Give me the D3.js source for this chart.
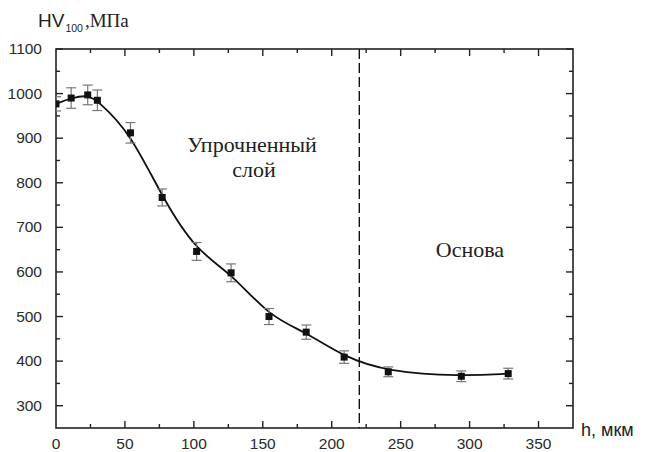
<!DOCTYPE html>
<html>
<head>
<meta charset="utf-8">
<script src="https://cdn.jsdelivr.net/npm/d3@7"></script>
<style>
  body { margin: 0; background: #fff; }
  .tick-label { font-family: "Liberation Sans", Arial, sans-serif; font-size: 15.5px; fill: #2a2a2a; }
  .serif { font-family: "Liberation Serif", "Times New Roman", serif; fill: #222; }
</style>
</head>
<body>
<div id="chart"></div>
<script>
// depth h, мкм
const depth = [0, 11, 23, 30, 54, 77, 102, 127, 154.5, 181.5, 209, 241, 294, 328];
// microhardness HV100, МПа
const hardness = [977, 990, 997, 985, 912, 767, 646, 598, 500, 465, 409, 376, 366, 372];
// error bar half-width
const errors = [16, 23, 22, 23, 23, 19, 20, 20, 18, 16, 14, 11, 12, 12];
const xTicks = [0, 50, 100, 150, 200, 250, 300, 350];
const yTicks = [300, 400, 500, 600, 700, 800, 900, 1000, 1100];
const boundary = 220;

const margin = {top: 49, right: 72, bottom: 24, left: 56};
const W = 645, H = 452;
const width = W - margin.left - margin.right;
const height = H - margin.top - margin.bottom;

const svg = d3.select("#chart").append("svg")
    .attr("width", W)
    .attr("height", H);

const g = svg.append("g")
    .attr("transform", "translate(" + margin.left + "," + margin.top + ")");

const x = d3.scaleLinear().domain([0, 375]).range([0, width]);
const y = d3.scaleLinear().domain([250, 1100]).range([height, 0]);

g.append("defs").append("clipPath").attr("id", "clip")
    .append("rect").attr("width", width).attr("height", height);

// minor ticks every 25 / 50
const xMinor = d3.range(25, 375, 50);
const yMinor = d3.range(350, 1100, 100);

function tickLines(sel, vals, len, orient) {
    sel.selectAll(null).data(vals).enter().append("line")
        .attr("stroke", "#222")
        .attr("stroke-width", 1.4)
        .attr("x1", d => orient === "b" || orient === "t" ? x(d) : (orient === "l" ? 0 : width))
        .attr("x2", d => orient === "b" || orient === "t" ? x(d) : (orient === "l" ? len : width - len))
        .attr("y1", d => orient === "l" || orient === "r" ? y(d) : (orient === "b" ? height : 0))
        .attr("y2", d => orient === "l" || orient === "r" ? y(d) : (orient === "b" ? height - len : len));
}

const ticks = g.append("g");
["b", "t"].forEach(o => {
    tickLines(ticks, xTicks.filter(d => d > 0), 7, o);
    tickLines(ticks, xMinor, 4, o);
});
["l", "r"].forEach(o => {
    tickLines(ticks, yTicks, 7, o);
    tickLines(ticks, yMinor, 4, o);
});

// frame
g.append("rect")
    .attr("width", width)
    .attr("height", height)
    .attr("fill", "none")
    .attr("stroke", "#222")
    .attr("stroke-width", 1.6);

// tick labels
g.selectAll(".xl").data(xTicks).enter().append("text")
    .attr("class", "tick-label")
    .attr("x", d => x(d))
    .attr("y", height + 21)
    .attr("text-anchor", "middle")
    .text(d => d);

g.selectAll(".yl").data(yTicks).enter().append("text")
    .attr("class", "tick-label")
    .attr("x", -14)
    .attr("y", d => y(d) + 5)
    .attr("text-anchor", "end")
    .text(d => d);

// boundary line
g.append("line")
    .attr("x1", x(boundary)).attr("x2", x(boundary))
    .attr("y1", 0).attr("y2", height)
    .attr("stroke", "#111")
    .attr("stroke-width", 1.4)
    .attr("stroke-dasharray", "10,4");

const pts = depth.map((d, i) => ({x: d, y: hardness[i], e: errors[i]}));
const plot = g.append("g").attr("clip-path", "url(#clip)");

// fitted curve
plot.append("path")
    .datum(pts)
    .attr("fill", "none")
    .attr("stroke", "#111")
    .attr("stroke-width", 1.8)
    .attr("d", d3.line().x(d => x(d.x)).y(d => y(d.y)).curve(d3.curveBasis));

// error bars
const eb = plot.selectAll(".eb").data(pts).enter().append("g")
    .attr("stroke", "#777")
    .attr("stroke-width", 1.2);
eb.append("line")
    .attr("x1", d => x(d.x)).attr("x2", d => x(d.x))
    .attr("y1", d => y(d.y - d.e)).attr("y2", d => y(d.y + d.e));
eb.append("line")
    .attr("x1", d => x(d.x) - 5).attr("x2", d => x(d.x) + 5)
    .attr("y1", d => y(d.y - d.e)).attr("y2", d => y(d.y - d.e));
eb.append("line")
    .attr("x1", d => x(d.x) - 5).attr("x2", d => x(d.x) + 5)
    .attr("y1", d => y(d.y + d.e)).attr("y2", d => y(d.y + d.e));

// markers
plot.selectAll(".pt").data(pts).enter().append("rect")
    .attr("x", d => x(d.x) - 3.5)
    .attr("y", d => y(d.y) - 3.5)
    .attr("width", 7)
    .attr("height", 7)
    .attr("fill", "#111");

// annotations
g.append("text").attr("class", "serif")
    .attr("x", 196).attr("y", 103)
    .attr("text-anchor", "middle")
    .attr("font-size", 22)
    .text("Упрочненный");
g.append("text").attr("class", "serif")
    .attr("x", 198).attr("y", 128)
    .attr("text-anchor", "middle")
    .attr("font-size", 22)
    .text("слой");
g.append("text").attr("class", "serif")
    .attr("x", 414).attr("y", 208)
    .attr("text-anchor", "middle")
    .attr("font-size", 22)
    .text("Основа");

// y axis title
const yt = svg.append("text").attr("x", 38).attr("y", 27);
yt.append("tspan")
    .style("font-family", "'Liberation Sans', Arial, sans-serif")
    .attr("font-size", 19)
    .attr("fill", "#222")
    .text("HV");
yt.append("tspan")
    .style("font-family", "'Liberation Sans', Arial, sans-serif")
    .attr("font-size", 10.5)
    .attr("dy", 5)
    .attr("dx", 1)
    .attr("fill", "#222")
    .text("100");
yt.append("tspan")
    .style("font-family", "'Liberation Serif', 'Times New Roman', serif")
    .attr("font-size", 19)
    .attr("dy", -5)
    .attr("dx", 2)
    .attr("fill", "#222")
    .text(",МПа");

// x axis title
svg.append("text")
    .attr("x", 581).attr("y", 436)
    .style("font-family", "'Liberation Sans', Arial, sans-serif")
    .attr("font-size", 18)
    .attr("fill", "#222")
    .text("h, мкм");
</script>
</body>
</html>
